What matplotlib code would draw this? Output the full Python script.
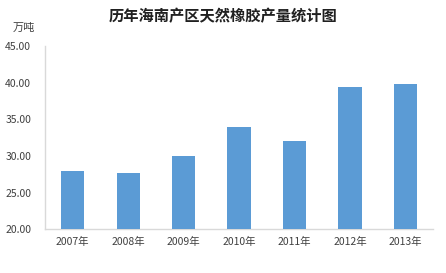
import matplotlib.pyplot as plt

plt.rcParams['font.family'] = ['Noto Sans CJK SC', 'DejaVu Sans']

years = ["2007年", "2008年", "2009年", "2010年", "2011年", "2012年", "2013年"]
output = [28.0, 27.7, 30.0, 34.0, 32.0, 39.5, 39.9]
yticks = [20, 25, 30, 35, 40, 45]

BAR_COLOR = "#5B9BD5"
TEXT_COLOR = "#404040"

fig = plt.figure(figsize=(4.46, 2.73), dpi=100)
ax = fig.add_axes([0.101, 0.161, 0.870, 0.669])

x = range(len(years))
ax.bar(x, output, width=0.42, color=BAR_COLOR, zorder=3)

ax.set_ylim(20, 45)
ax.set_xlim(-0.5, len(years) - 0.5)
ax.set_yticks(yticks)
ax.set_yticklabels([f"{v:.2f}" for v in yticks], fontsize=7.5, color=TEXT_COLOR)
ax.set_xticks(list(x))
ax.set_xticklabels(years, fontsize=7.5, color=TEXT_COLOR)
ax.tick_params(axis="x", length=0, pad=6)
ax.tick_params(axis="y", length=0, pad=10)

for side in ("top", "right"):
    ax.spines[side].set_visible(False)
for side in ("left", "bottom"):
    ax.spines[side].set_color("#D9D9D9")
    ax.spines[side].set_linewidth(1.0)

fig.text(0.5, 0.94, "历年海南产区天然橡胶产量统计图", ha="center", va="center",
         fontsize=11, fontweight="bold", color="#202020")
fig.text(0.054, 0.897, "万吨", ha="center", va="center", fontsize=8, color=TEXT_COLOR)

fig.savefig("out.png", dpi=100)
